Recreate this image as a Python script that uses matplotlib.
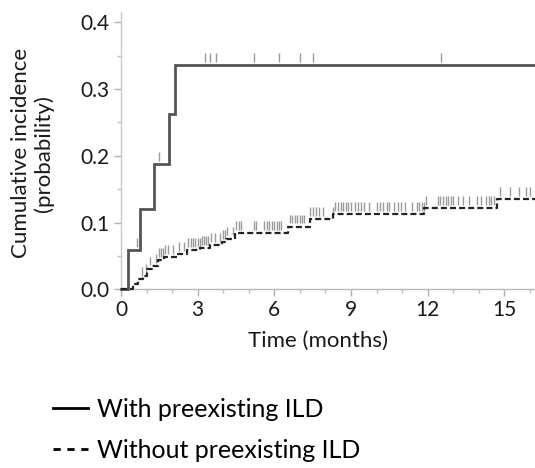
import matplotlib
matplotlib.use("Agg")
import matplotlib.pyplot as plt
from matplotlib.lines import Line2D
import numpy as np

plt.rcParams['font.family'] = ['Lato', 'DejaVu Sans']

# ---- data ----
ild_times = [0.0, 0.27, 0.73, 1.28, 1.88, 2.13]
ild_cuminc = [0.0, 0.059, 0.120, 0.188, 0.262, 0.336]
ild_censor = [0.64, 1.49, 3.28, 3.49, 3.70, 5.20, 6.20, 7.02, 7.50, 12.54]

noild_times = [0.0, 0.45, 0.65, 0.87, 1.00, 1.20, 1.45, 1.68, 2.20, 2.60, 3.10,
               3.47, 3.95, 4.12, 4.45, 6.54, 7.38, 8.30, 11.87, 14.72]
noild_cuminc = [0.0, 0.008, 0.015, 0.020, 0.031, 0.035, 0.044, 0.048, 0.053, 0.059,
                0.062, 0.066, 0.071, 0.076, 0.084, 0.094, 0.105, 0.113, 0.122, 0.135]
noild_censor = [0.83, 0.97, 1.14, 1.38, 1.47, 1.56, 1.65, 1.74, 1.83, 2.05, 2.25, 2.48,
                2.64, 2.73, 2.82, 2.91, 3.00, 3.08, 3.16, 3.25, 3.33, 3.42, 3.53, 3.68,
                3.88, 4.00, 4.08, 4.15, 4.39, 4.50, 4.60, 4.71, 5.20, 5.30,
                5.60, 5.70, 5.80, 5.90, 6.00, 6.09, 6.18, 6.27,
                6.60, 6.70, 6.80, 6.90, 7.00, 7.09, 7.18, 7.38, 7.50, 7.63, 7.76, 7.90,
                8.29, 8.39, 8.49, 8.59, 8.69, 8.79, 8.89, 9.00, 9.15, 9.27, 9.40, 9.52,
                9.71, 10.00, 10.15, 10.27, 10.39, 10.50, 10.70, 10.82, 10.95, 11.10,
                11.40, 11.60, 11.68, 11.77, 11.86, 11.92,
                12.40, 12.50, 12.60, 12.70, 12.80, 12.90, 13.00, 13.20, 13.40, 13.60,
                13.93, 14.10, 14.30, 14.40, 14.49, 14.58, 14.82, 15.23, 15.56, 15.86, 16.00]

x_end = 16.2
xticks = [0, 3, 6, 9, 12, 15]
yticks = [0.0, 0.1, 0.2, 0.3, 0.4]
labels = ["With preexisting ILD", "Without preexisting ILD"]


def step_value(times, vals, t):
    idx = np.searchsorted(times, t, side='right') - 1
    return np.asarray(vals)[idx]


fig = plt.figure(figsize=(5.35, 4.68), dpi=100)
ax = fig.add_axes([121 / 535, (468 - 289.3) / 468, (535 - 121) / 535, (289.3 - 11.7) / 468])

line_col = '#555555'
ax.step(ild_times + [x_end], ild_cuminc + [ild_cuminc[-1]], where='post',
        color=line_col, lw=2.0, solid_joinstyle='miter', zorder=3, clip_on=False)
ax.step(noild_times + [x_end], noild_cuminc + [noild_cuminc[-1]], where='post',
        color='#222222', lw=1.6, dashes=(2.7, 1.4), zorder=3, clip_on=False)

cens_col = '#9a9a9a'
y1 = step_value(ild_times, ild_cuminc, np.array(ild_censor))
ax.vlines(ild_censor, y1 + 0.005, y1 + 0.018, color=cens_col, lw=1.0, zorder=2)
y2 = step_value(noild_times, noild_cuminc, np.array(noild_censor))
ax.vlines(noild_censor, y2 + 0.005, y2 + 0.018, color=cens_col, lw=1.0, zorder=2)

ax.set_xlim(0, x_end)
ax.set_ylim(0, 0.416)
ax.set_xticks(xticks)
ax.set_xticks(np.arange(0, 17, 1), minor=True)
ax.set_yticks(yticks)
ax.set_yticks(np.arange(0, 0.41, 0.05), minor=True)
ax.set_yticklabels([f"{v:.1f}" for v in yticks])
ax.set_xticklabels([str(v) for v in xticks])

for s in ['top', 'right']:
    ax.spines[s].set_visible(False)
ax.spines['left'].set_color('#c8c8c8')
ax.spines['bottom'].set_color('#b8b8b8')
ax.spines['left'].set_linewidth(1.0)
ax.spines['bottom'].set_linewidth(1.0)
ax.tick_params(axis='both', which='major', length=5, width=1, color='#b0b0b0',
               labelsize=15, labelcolor='#1a1a1a', pad=3)
ax.tick_params(axis='both', which='minor', length=3, width=1, color='#c0c0c0')

ax.set_xlabel("Time (months)", fontsize=16, color='#1a1a1a')
ax.xaxis.set_label_coords(0.476, -0.15)
ax.set_ylabel("Cumulative incidence\n(probability)", fontsize=16, color='#1a1a1a',
              linespacing=1.15)
ax.yaxis.set_label_coords(-0.162, 0.49)

handles = [Line2D([], [], color='black', lw=2.0),
           Line2D([], [], color='black', lw=2.0, dashes=(2.6, 2.4))]
fig.legend(handles, labels, loc='upper left', bbox_to_anchor=(53 / 535, 1 - 398 / 468),
           frameon=False, fontsize=18, handlelength=1.4, handletextpad=0.36,
           labelspacing=0.72, borderaxespad=0, borderpad=0)

fig.savefig("out.png", dpi=100)
